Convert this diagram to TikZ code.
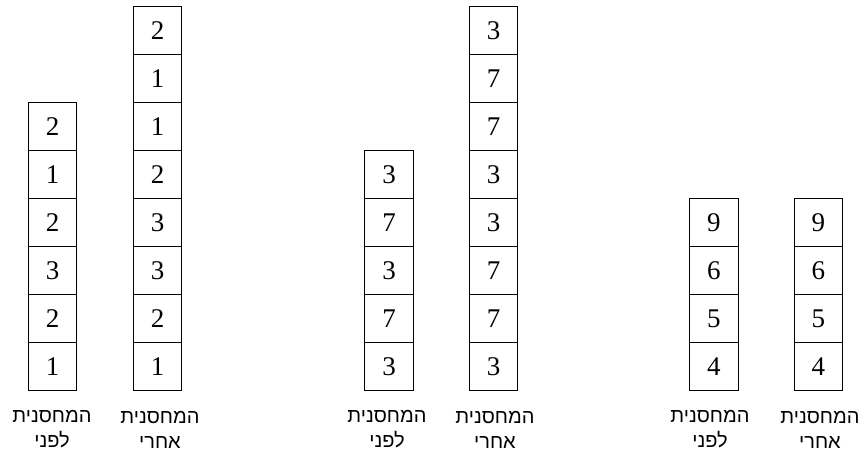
\documentclass[tikz,border=0pt]{standalone}
\usepackage{fontspec}
\setmainfont{Liberation Serif}
\newfontfamily\hebfont[Script=Hebrew]{Liberation Sans}
\TeXXeTstate=1
\begin{document}
\begin{tikzpicture}[x=1pt,y=-1pt,
  cell/.style={draw, line width=1.1pt, minimum width=48.5pt, minimum height=48pt,
    inner sep=0pt, font=\fontsize{27}{32}\selectfont, anchor=south},
  lbl/.style={font=\hebfont\fontsize{20}{25}\selectfont, align=center, inner sep=0pt}]
\useasboundingbox (0,0) rectangle (865,452);
\foreach \n/\x/\vals in {
  s1/52.5/{1,2,3,2,1,2},
  s2/157.5/{1,2,3,3,2,1,1,2},
  s3/389/{3,7,3,7,3},
  s4/493.5/{3,7,7,3,3,7,7,3},
  s5/713.8/{4,5,6,9},
  s6/818.3/{4,5,6,9}}{
  \foreach \v [count=\i] in \vals {
    \node[cell] (\n c\i) at (\x,{391-(\i-1)*48}) {\v};
  }
}
\node[lbl] (l1) at (52,429.5) {\beginR המחסנית\endR\\\beginR לפני\endR};
\node[lbl] (l2) at (160,429.5) {\beginR המחסנית\endR\\\beginR אחרי\endR};
\node[lbl] (l3) at (387,429.5) {\beginR המחסנית\endR\\\beginR לפני\endR};
\node[lbl] (l4) at (495,429.5) {\beginR המחסנית\endR\\\beginR אחרי\endR};
\node[lbl] (l5) at (710,429.5) {\beginR המחסנית\endR\\\beginR לפני\endR};
\node[lbl] (l6) at (820,429.5) {\beginR המחסנית\endR\\\beginR אחרי\endR};
\end{tikzpicture}
\end{document}
